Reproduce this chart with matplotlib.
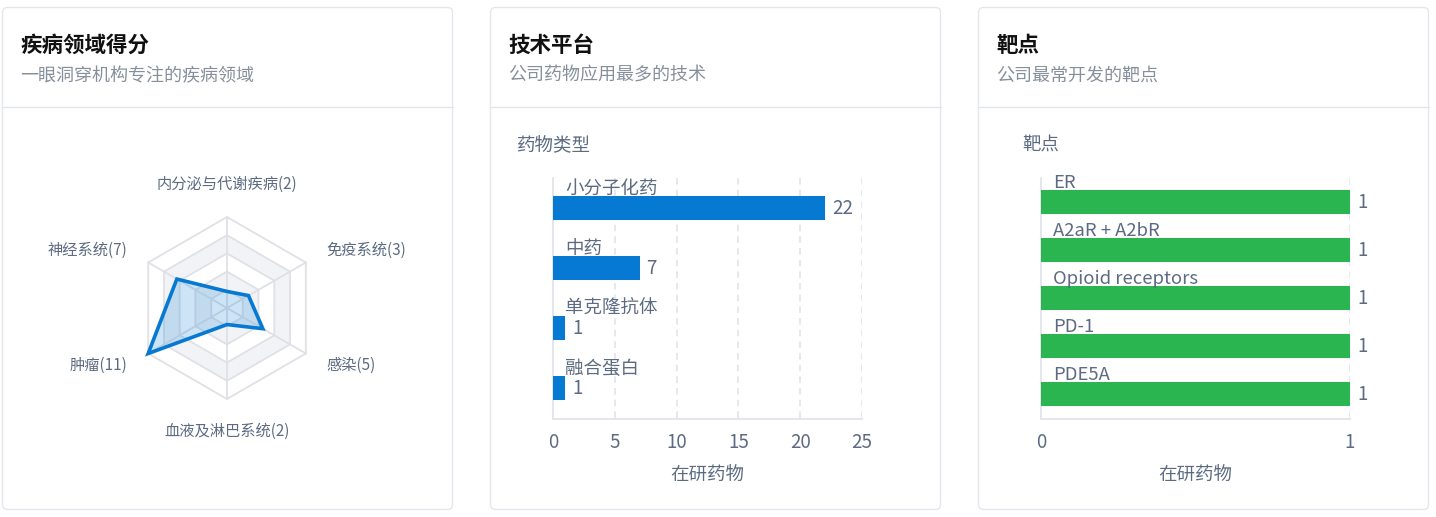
import numpy as np
import matplotlib
matplotlib.use("Agg")
import matplotlib.pyplot as plt
from matplotlib.patches import FancyBboxPatch, Polygon

plt.rcParams['font.family'] = ['Noto Sans CJK SC', 'DejaVu Sans']

# ---------------- data ----------------
card_titles = ["疾病领域得分", "技术平台", "靶点"]
card_subtitles = ["一眼洞穿机构专注的疾病领域", "公司药物应用最多的技术", "公司最常开发的靶点"]

radar_categories = ["内分泌与代谢疾病", "免疫系统", "感染", "血液及淋巴系统", "肿瘤", "神经系统"]
radar_values = [2, 3, 5, 2, 11, 7]
radar_max = 11

tech_categories = ["小分子化药", "中药", "单克隆抗体", "融合蛋白"]
tech_values = [22, 7, 1, 1]
tech_ticks = [0, 5, 10, 15, 20, 25]

target_categories = ["ER", "A2aR + A2bR", "Opioid receptors", "PD-1", "PDE5A"]
target_values = [1, 1, 1, 1, 1]
target_ticks = [0, 1]

# ---------------- style ----------------
W, H = 1436, 517
BLUE = "#0679d2"
GREEN = "#2bb551"
TXT = "#5c6b82"
GRID = "#e2e4ea"
TITLE = "#111111"
SUB = "#86909c"

fig = plt.figure(figsize=(W / 100, H / 100), dpi=100)
fig.patch.set_facecolor("white")


def px_axes(x0, y0, x1, y1, **kw):
    return fig.add_axes([x0 / W, 1 - y1 / H, (x1 - x0) / W, (y1 - y0) / H], **kw)


# background axes in pixel coordinates
bg = px_axes(0, 0, W, H)
bg.set_xlim(0, W)
bg.set_ylim(H, 0)
bg.axis("off")

card_x = [2, 490, 978]
card_w = 450
for i in range(3):
    x0 = card_x[i]
    bg.add_patch(FancyBboxPatch((x0 + 0.5, 7.5), card_w, 502,
                                boxstyle="round,pad=0,rounding_size=5",
                                facecolor="white", edgecolor="#e5e6eb", lw=1.0))
    bg.plot([x0 + 0.5, x0 + card_w + 0.5], [106.5, 106.5], color="#e5e6eb", lw=1.0)
    bg.text(x0 + 18, 45, card_titles[i], fontsize=15.5, fontweight="bold",
            color=TITLE, va="center", ha="left")
    bg.text(x0 + 18, 76, card_subtitles[i], fontsize=13, color=SUB,
            va="center", ha="left")

# ---------------- radar ----------------
cx, cy, R = 227, 308, 91
scale = R / radar_max
rax = px_axes(cx - 200, cy - 150, cx + 200, cy + 150)
rax.set_xlim(-200 / scale, 200 / scale)
rax.set_ylim(-150 / scale, 150 / scale)
rax.axis("off")

n = len(radar_categories)
angles = np.arange(n) * 2 * np.pi / n  # clockwise from top


def pts(r):
    r = np.asarray(r, dtype=float)
    return np.column_stack([r * np.sin(angles), r * np.cos(angles)])


levels = 5
for k in range(levels, 0, -1):
    r_out = radar_max * k / levels
    fc = "#f2f3f6" if k % 2 == 0 else "white"
    rax.add_patch(Polygon(pts([r_out] * n), closed=True, facecolor=fc,
                          edgecolor="none", zorder=1))
for k in range(1, levels + 1):
    r_out = radar_max * k / levels
    rax.add_patch(Polygon(pts([r_out] * n), closed=True, facecolor="none",
                          edgecolor="#dfe1e6", lw=1.3, zorder=2))
for p in pts([radar_max] * n):
    rax.plot([0, p[0]], [0, p[1]], color="#dfe1e6", lw=1.3, zorder=2)

rax.add_patch(Polygon(pts(radar_values), closed=True, facecolor=BLUE, alpha=0.2,
                      edgecolor="none", zorder=3))
rax.add_patch(Polygon(pts(radar_values), closed=True, facecolor="none",
                      edgecolor=BLUE, lw=2.6, joinstyle="miter", zorder=4))

lab_r = 115 / scale
for a, name, v in zip(angles, radar_categories, radar_values):
    x, y = lab_r * np.sin(a), lab_r * np.cos(a)
    s = np.sin(a)
    c = np.cos(a)
    if abs(s) < 1e-6:
        ha = "center"
        va = "bottom" if c > 0 else "top"
    else:
        ha = "left" if s > 0 else "right"
        va = "center"
    rax.text(x, y, f"{name}({v})", ha=ha, va=va, fontsize=11, color=TXT)


# ---------------- bar charts ----------------
def bar_chart(x0, x1, cats, vals, ticks, color, band_px, bar_px, ylab, ylab_x):
    y0, y1 = 178, 178 + band_px * len(cats)
    ax = px_axes(x0, y0, x1, y1)
    ax.set_facecolor("none")
    pos = np.arange(len(cats))
    ax.barh(pos, vals, height=bar_px / band_px, color=color, zorder=3)
    ax.set_ylim(len(cats) - 0.5, -0.5)
    ax.set_xlim(ticks[0], ticks[-1])
    for sp in ["top", "right"]:
        ax.spines[sp].set_visible(False)
    ax.spines["left"].set_color(GRID)
    ax.spines["bottom"].set_color(GRID)
    ax.spines["left"].set_linewidth(1.3)
    ax.spines["bottom"].set_linewidth(1.3)
    ax.spines["bottom"].set_position(("outward", 1))
    ax.set_xticks(ticks)
    ax.set_xticklabels([str(t) for t in ticks])
    ax.set_yticks([])
    ax.tick_params(axis="x", length=0, pad=9, labelsize=13.5, labelcolor=TXT)
    for t in ticks[1:]:
        ax.axvline(t, color=GRID, lw=1.2, ls=(0, (4, 3)), zorder=1)
    for p, c, v in zip(pos, cats, vals):
        ax.annotate(c, (0, p - bar_px / band_px / 2), xytext=(12, -2),
                    textcoords="offset pixels", ha="left", va="bottom",
                    fontsize=13.3, color=TXT)
        ax.annotate(str(v), (v, p), xytext=(7, -1), textcoords="offset pixels",
                    ha="left", va="center", fontsize=13.5, color=TXT)
    ax.set_xlabel("在研药物", fontsize=13.3, color=TXT, labelpad=10)
    bg.text(ylab_x, 146, ylab, fontsize=13.3, color=TXT, ha="left", va="center")
    return ax


bar_chart(553, 862, tech_categories, tech_values, tech_ticks, BLUE, 60, 24,
          "药物类型", 517)
bar_chart(1041, 1350, target_categories, target_values, target_ticks, GREEN, 48, 24,
          "靶点", 1022)

fig.savefig("out.png", dpi=100, facecolor="white")
